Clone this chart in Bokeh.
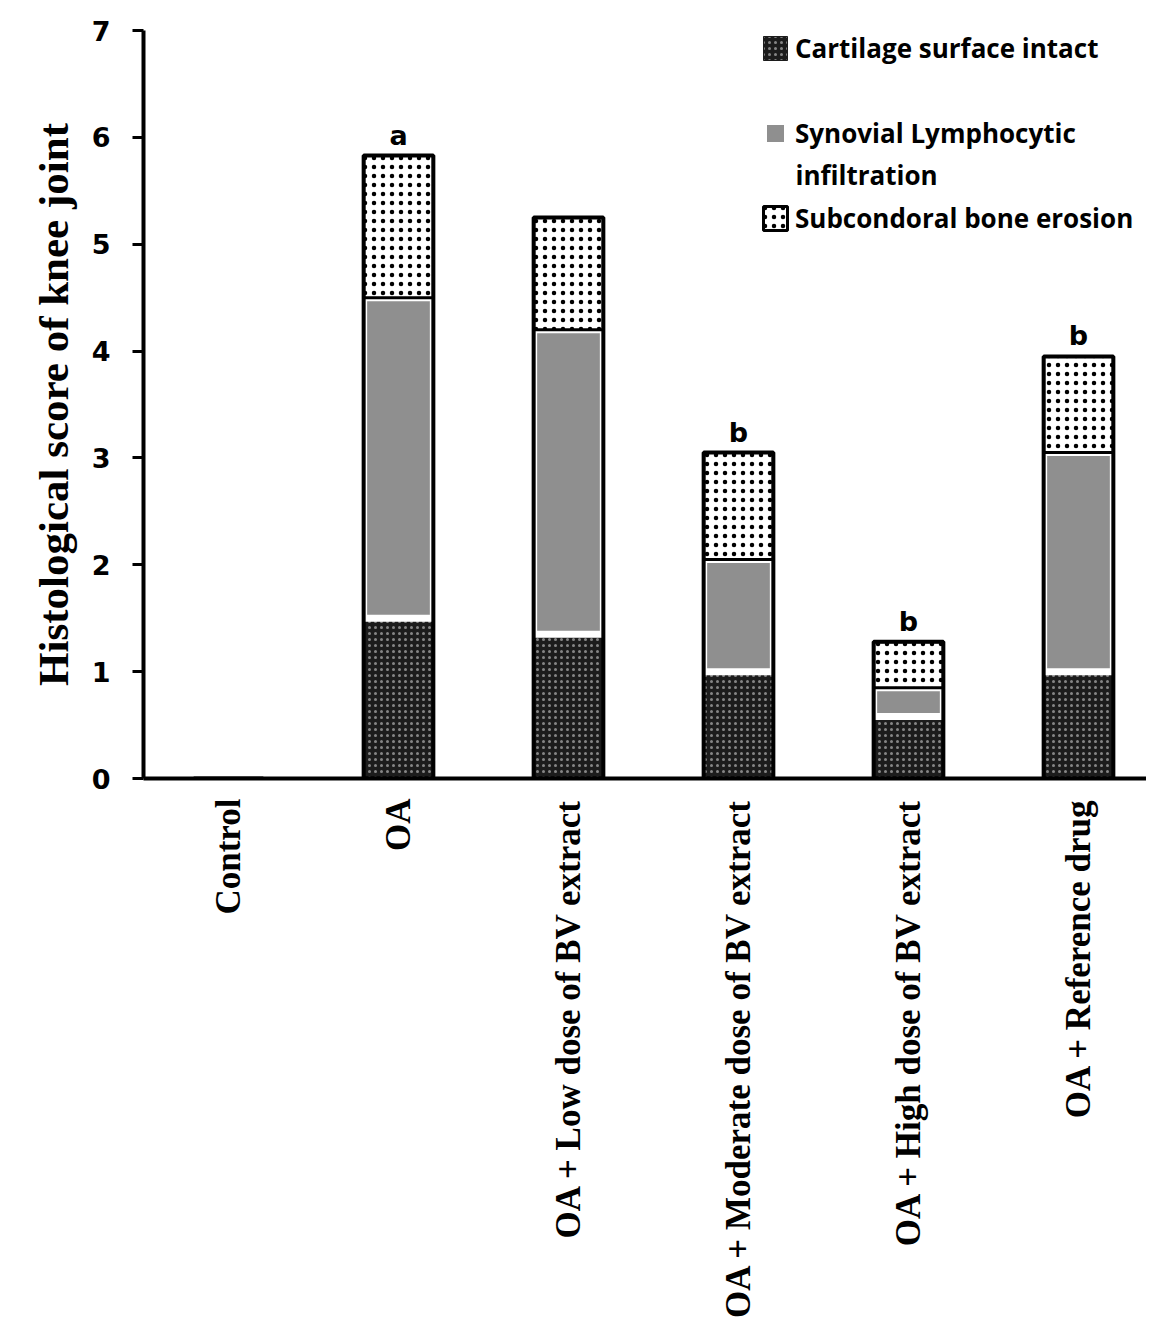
import math
from bokeh.plotting import figure
from bokeh.models import Range1d, Legend, LegendItem, ColumnDataSource, FixedTicker, Label
from bokeh.core.properties import value
from bokeh.embed import file_html
from bokeh.resources import INLINE

groups = ["Control", "OA", "OA + Low dose of BV extract", "OA + Moderate dose of BV extract",
          "OA + High dose of BV extract", "OA + Reference drug"]
cartilage = [0.0, 1.5, 1.35, 1.0, 0.58, 1.0]
synovial = [0.0, 3.0, 2.85, 1.05, 0.27, 2.05]
subchondral = [0.0, 1.33, 1.05, 1.0, 0.43, 0.9]
letters = ["", "a", "", "b", "b", "b"]
series = ["cartilage", "synovial", "subchondral"]
legend_labels = ["Cartilage surface intact", "Synovial Lymphocytic", "Subcondoral bone erosion"]
legend_extra = "infiltration"
y_ticks = [0, 1, 2, 3, 4, 5, 6, 7]

# categorical positions: one slot per group, centred in its slot
xpos = [i + 0.5 for i in range(len(groups))]
totals = [a + b + c for a, b, c in zip(cartilage, synovial, subchondral)]
src = ColumnDataSource(dict(x=xpos, group=groups, cartilage=cartilage, synovial=synovial,
                            subchondral=subchondral, total=totals, letter=letters))

p = figure(x_range=Range1d(0, 5.9), y_range=Range1d(0, 7), width=1146, height=1327,
           output_backend="svg", toolbar_location=None,
           min_border_left=143, min_border_top=30, min_border_right=0, min_border_bottom=549)
p.outline_line_color = None
p.grid.visible = False
p.background_fill_color = "white"

rs = p.vbar_stack(series, x="x", width=0.41, source=src,
                  fill_color=["#1c1c1c", "#8f8f8f", "white"],
                  line_color=["#1c1c1c", "white", "black"],
                  line_width=[1, 7, 3],
                  hatch_pattern=[".", None, "."],
                  hatch_color=["#858585", "#8f8f8f", "black"],
                  hatch_scale=[6, 12, 9],
                  hatch_weight=[1.5, 1, 3.2])

p.vbar(x="x", top="total", width=0.41, source=src, fill_color=None,
       line_color="black", line_width=4)

p.text(x="x", y="total", text="letter", source=src, text_align="center",
       text_baseline="bottom", y_offset=-5, text_font=value("DejaVu Sans"),
       text_font_style="bold", text_font_size="27px", text_color="black")

# y axis
p.yaxis.ticker = FixedTicker(ticks=y_ticks)
p.yaxis.axis_line_width = 4
p.yaxis.axis_line_color = "black"
p.yaxis.major_tick_line_width = 3
p.yaxis.major_tick_out = 11
p.yaxis.major_tick_in = 0
p.yaxis.minor_tick_line_color = None
p.yaxis.major_label_text_font = "DejaVu Sans"
p.yaxis.major_label_text_font_style = "bold"
p.yaxis.major_label_text_font_size = "27px"
p.yaxis.major_label_text_color = "black"
p.yaxis.major_label_standoff = 22
p.yaxis.axis_label = "Histological score of knee joint"
p.yaxis.axis_label_text_font = "Liberation Serif"
p.yaxis.axis_label_text_font_style = "bold"
p.yaxis.axis_label_text_font_size = "43px"
p.yaxis.axis_label_text_color = "black"
p.yaxis.axis_label_standoff = 12

# x axis (one label per group slot)
p.xaxis.ticker = FixedTicker(ticks=xpos)
p.xaxis.major_label_overrides = {x: g for x, g in zip(xpos, groups)}
p.xaxis.major_label_orientation = math.pi / 2
p.xaxis.major_tick_line_color = None
p.xaxis.major_tick_out = 0
p.xaxis.minor_tick_line_color = None
p.xaxis.axis_line_width = 4
p.xaxis.axis_line_color = "black"
p.xaxis.major_label_text_font = "Liberation Serif"
p.xaxis.major_label_text_font_style = "bold"
p.xaxis.major_label_text_font_size = "35px"
p.xaxis.major_label_text_color = "black"
p.xaxis.major_label_standoff = 20

legend = Legend(items=[LegendItem(label=lab, renderers=[r]) for lab, r in zip(legend_labels, rs)],
                location=(617, 542), orientation="vertical", border_line_color=None,
                background_fill_alpha=0, padding=0, margin=0, spacing=49,
                glyph_width=30, glyph_height=30, label_standoff=5,
                label_text_font="Open Sans", label_text_font_style="bold",
                label_text_font_size="26px", label_height=31, label_text_color="black")
p.add_layout(legend)
p.add_layout(Label(x=652, y=604, x_units="screen", y_units="screen", text=legend_extra,
                   text_font="Open Sans", text_font_style="bold", text_font_size="26px",
                   text_baseline="middle", text_color="black"))

open("out.html", "w").write(file_html(p, INLINE))
